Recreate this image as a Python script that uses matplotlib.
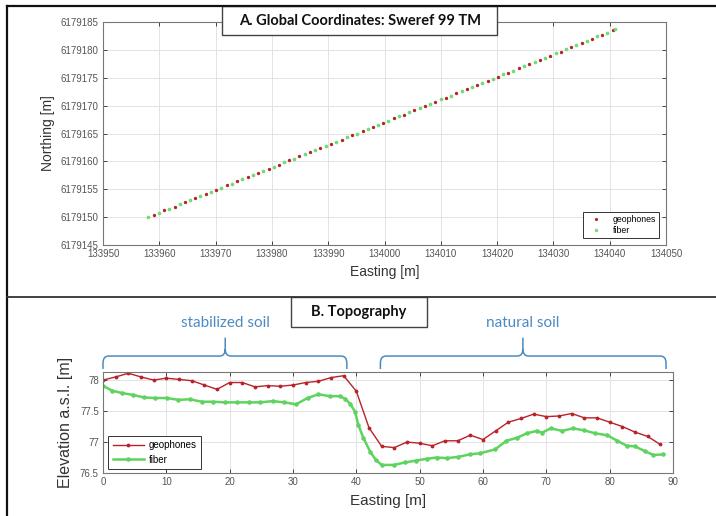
import matplotlib
matplotlib.use("Agg")
import matplotlib.pyplot as plt
from matplotlib.patches import Rectangle, PathPatch
from matplotlib.path import Path
from matplotlib.lines import Line2D
import matplotlib.transforms as mtransforms
import numpy as np

plt.rcParams['font.family'] = ['Liberation Sans', 'DejaVu Sans']

# --- Panel A: global coordinates (Easting, Northing - 6179000)
geo_east = [133959.0, 133960.9, 133962.7, 133964.6, 133966.4, 133968.3, 133970.1, 133972.0,
            133973.8, 133975.7, 133977.5, 133979.4, 133981.2, 133983.1, 133984.9, 133986.8,
            133988.6, 133990.5, 133992.4, 133994.2, 133996.1, 133997.9, 133999.8, 134001.6,
            134003.5, 134005.3, 134007.2, 134009.0, 134010.9, 134012.7, 134014.6, 134016.4,
            134018.3, 134020.1, 134022.0, 134023.9, 134025.7, 134027.6, 134029.4, 134031.3,
            134033.1, 134035.0, 134036.8, 134038.7, 134040.5]
geo_north = [150.4, 151.2, 151.9, 152.7, 153.4, 154.2, 154.9, 155.7, 156.4, 157.2, 157.9,
             158.7, 159.4, 160.2, 160.9, 161.7, 162.4, 163.2, 163.9, 164.7, 165.4, 166.2,
             166.9, 167.7, 168.4, 169.2, 169.9, 170.7, 171.4, 172.2, 172.9, 173.7, 174.4,
             175.2, 175.9, 176.7, 177.4, 178.2, 178.9, 179.7, 180.5, 181.2, 182.0, 182.7, 183.5]
fib_east = [133958.0, 133959.9, 133961.8, 133963.6, 133965.5, 133967.3, 133969.2, 133971.0,
            133972.9, 133974.7, 133976.6, 133978.4, 133980.3, 133982.2, 133984.0, 133985.9,
            133987.7, 133989.6, 133991.4, 133993.3, 133995.1, 133997.0, 133998.8, 134000.7,
            134002.6, 134004.4, 134006.3, 134008.1, 134010.0, 134011.8, 134013.7, 134015.5,
            134017.4, 134019.2, 134021.1, 134022.9, 134024.8, 134026.7, 134028.5, 134030.4,
            134032.2, 134034.1, 134035.9, 134037.8, 134039.6, 134041.0]
fib_north = [150.0, 150.8, 151.5, 152.3, 153.0, 153.8, 154.5, 155.3, 156.0, 156.8, 157.5,
             158.3, 159.0, 159.8, 160.5, 161.3, 162.0, 162.8, 163.5, 164.3, 165.0, 165.8,
             166.5, 167.3, 168.1, 168.8, 169.6, 170.3, 171.1, 171.8, 172.6, 173.3, 174.1,
             174.8, 175.6, 176.3, 177.1, 177.9, 178.6, 179.4, 180.1, 180.9, 181.6, 182.4,
             183.1, 183.7]
NORTH_BASE = 6179000

# --- Panel B: topography along profile
geo_x = [0, 2, 4, 6, 8, 10, 12, 14, 16, 18, 20, 22, 24, 26, 28, 30, 32, 34, 36, 38, 40, 42,
         44, 46, 48, 50, 52, 54, 56, 58, 60, 62, 64, 66, 68, 70, 72, 74, 76, 78, 80, 82, 84,
         86, 88]
geo_elev = [78.00, 78.05, 78.11, 78.05, 78.00, 78.03, 78.01, 77.99, 77.92, 77.85,
            77.96, 77.96, 77.89, 77.91, 77.90, 77.92, 77.96, 77.98, 78.04, 78.07,
            77.82, 77.23, 76.93, 76.91, 77.00, 76.98, 76.94, 77.02, 77.02, 77.11,
            77.04, 77.18, 77.32, 77.38, 77.45, 77.41, 77.42, 77.46, 77.39, 77.39,
            77.32, 77.25, 77.16, 77.09, 76.96]
fib_x = [0, 1.4, 3.0, 4.8, 6.4, 8.2, 10.1, 11.9, 13.7, 15.6, 17.4, 19.3, 21.1, 23.0, 24.8,
         26.8, 28.6, 30.5, 32.3, 34.0, 35.8, 37.4, 38.2, 39.0, 39.8, 40.3, 41.1, 42.2, 43.1,
         44.0, 45.9, 47.7, 49.4, 51.1, 52.7, 54.3, 56.1, 57.9, 59.6, 61.9, 63.7, 65.4, 66.9,
         68.5, 69.3, 70.7, 72.5, 74.2, 75.9, 77.7, 79.6, 81.2, 82.7, 84.0, 85.6, 86.9, 88.4]
fib_elev = [77.91, 77.83, 77.79, 77.76, 77.72, 77.71, 77.71, 77.68, 77.69, 77.65,
            77.65, 77.64, 77.64, 77.64, 77.64, 77.66, 77.64, 77.61, 77.71, 77.77,
            77.74, 77.74, 77.70, 77.62, 77.49, 77.28, 77.07, 76.84, 76.71, 76.63,
            76.63, 76.67, 76.70, 76.73, 76.75, 76.74, 76.76, 76.80, 76.82, 76.88,
            77.02, 77.07, 77.14, 77.18, 77.15, 77.22, 77.18, 77.22, 77.19, 77.14,
            77.11, 77.02, 76.94, 76.93, 76.85, 76.79, 76.80]

# soil zones (start, cusp, end) in Easting [m]
zones = [("stabilized soil", 0.0, 19.3, 38.5), ("natural soil", 43.8, 66.3, 88.9)]

RED = '#b8232b'
GREEN = '#5fd35f'
BLUE = '#4a8bc2'
W, H = 716, 516


def fx(px):
    return px / W


def fy(py):
    return 1 - py / H


def style_axes(ax):
    ax.grid(True, color='#e3e3e3', linewidth=0.7)
    ax.set_axisbelow(True)
    for s in ax.spines.values():
        s.set_color('#777777')
        s.set_linewidth(0.8)
    ax.tick_params(direction='in', top=True, right=True, length=3, width=0.7,
                   color='#444444', labelsize=7, labelcolor='#555555', pad=3)


fig = plt.figure(figsize=(W / 100, H / 100), dpi=100)

# ---------- Panel A
axA = fig.add_axes([fx(103), fy(245), (666 - 103) / W, (245 - 22) / H])
axA.plot(geo_east, np.array(geo_north) + NORTH_BASE, '.', color=RED, ms=2.8, label='geophones')
axA.plot(fib_east, np.array(fib_north) + NORTH_BASE, '.', color='#74dc74', ms=3.3, label='fiber')
axA.set_xlim(133950, 134050)
axA.set_ylim(6179145, 6179185)
axA.set_xticks(np.arange(133950, 134051, 10))
axA.set_yticks(np.arange(6179145, 6179186, 5))
axA.ticklabel_format(useOffset=False, style='plain')
style_axes(axA)
axA.set_xlabel('Easting [m]', fontsize=10, color='#333333', labelpad=4)
axA.set_ylabel('Northing [m]', fontsize=10, color='#333333', labelpad=4)
legA = axA.legend(loc='lower right', bbox_to_anchor=(0.988, 0.031), borderaxespad=0,
                  fontsize=6.3, fancybox=False, edgecolor='#333333', framealpha=1,
                  handlelength=2.2, borderpad=0.35, labelspacing=0.25, markerscale=0.9)
legA.get_frame().set_linewidth(0.7)

# ---------- Panel B
axB = fig.add_axes([fx(103), fy(473), (673 - 103) / W, (473 - 372) / H])
axB.plot(geo_x, geo_elev, '-', color=RED, lw=1.0, marker='.', ms=3.5, label='geophones')
axB.plot(fib_x, fib_elev, '-', color=GREEN, lw=1.8, marker='.', ms=4.5, label='fiber')
axB.set_xlim(0, 90)
axB.set_ylim(76.5, 78.13)
axB.set_xticks(np.arange(0, 91, 10))
axB.set_yticks([76.5, 77, 77.5, 78])
axB.set_yticklabels(['76.5', '77', '77.5', '78'])
style_axes(axB)
axB.set_xlabel('Easting [m]', fontsize=11, color='#333333', labelpad=5)
axB.set_ylabel('Elevation a.s.l. [m]', fontsize=11.5, color='#333333', labelpad=5)
legB = axB.legend(loc='lower left', bbox_to_anchor=(0.009, 0.04), borderaxespad=0,
                  fontsize=7, fancybox=False, edgecolor='#333333', framealpha=1,
                  handlelength=3.2, borderpad=0.45, labelspacing=0.45, handletextpad=0.5)
legB.get_frame().set_linewidth(0.7)

# curly braces above panel B
trans = mtransforms.blended_transform_factory(axB.transData, axB.transAxes)
y_line, y_end, y_tip = 1.158, 1.03, 1.34
rx, ry = 0.9, 0.07
for name, x0, xm, x1 in zones:
    verts = [(x0, y_end), (x0, y_line - ry), (x0, y_line), (x0 + rx, y_line),
             (xm - rx, y_line), (xm, y_line), (xm, y_line + ry), (xm, y_tip),
             (xm, y_line + ry), (xm, y_line), (xm + rx, y_line),
             (x1 - rx, y_line), (x1, y_line), (x1, y_line - ry), (x1, y_end)]
    codes = [Path.MOVETO, Path.LINETO, Path.CURVE3, Path.CURVE3,
             Path.LINETO, Path.CURVE3, Path.CURVE3, Path.LINETO,
             Path.MOVETO, Path.CURVE3, Path.CURVE3,
             Path.LINETO, Path.CURVE3, Path.CURVE3, Path.LINETO]
    axB.add_patch(PathPatch(Path(verts, codes), transform=trans, fill=False,
                            edgecolor=BLUE, lw=1.1, clip_on=False))
    axB.text(xm, 1.485, name, transform=trans, ha='center', va='center',
             fontsize=11, color=BLUE, family=['Lato', 'DejaVu Sans'])

# ---------- frame lines and title boxes
fig.add_artist(Line2D([fx(7), fx(7)], [fy(6), fy(516)], color='#111111', lw=1.6))
fig.add_artist(Line2D([fx(7), fx(716)], [fy(6), fy(6)], color='#111111', lw=1.6))
fig.add_artist(Line2D([fx(7), fx(716)], [fy(297), fy(297)], color='#333333', lw=1.3))

fig.add_artist(Rectangle((fx(222), fy(35)), (497 - 222) / W, (35 - 6) / H,
                         transform=fig.transFigure, facecolor='white',
                         edgecolor='#444444', lw=1.0))
fig.text(fx(360), fy(21), 'A. Global Coordinates: Sweref 99 TM', ha='center', va='center',
         fontsize=10.5, fontweight='bold', color='#111111', family=['Lato', 'DejaVu Sans'])

fig.add_artist(Rectangle((fx(291), fy(327)), (427 - 291) / W, (327 - 297) / H,
                         transform=fig.transFigure, facecolor='white',
                         edgecolor='#444444', lw=1.0))
fig.text(fx(359), fy(312), 'B. Topography', ha='center', va='center',
         fontsize=10.5, fontweight='bold', color='#111111', family=['Lato', 'DejaVu Sans'])

fig.savefig('out.png', dpi=100)
